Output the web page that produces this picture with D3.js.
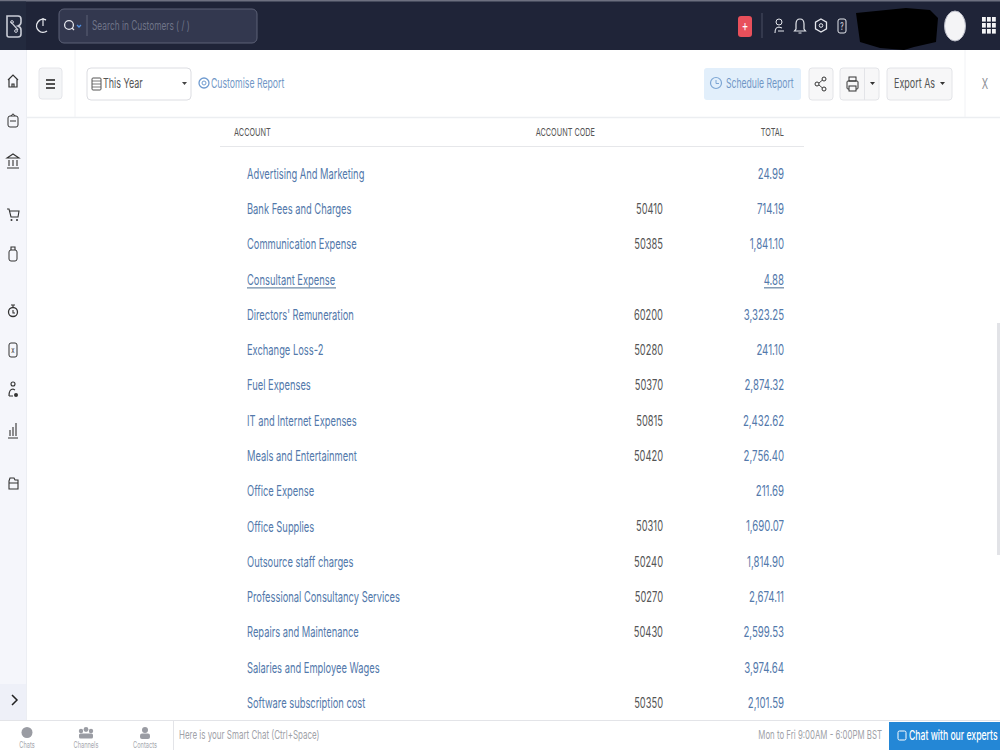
<!DOCTYPE html>
<html>
<head>
<meta charset="utf-8">
<script src="https://cdn.jsdelivr.net/npm/d3@7"></script>
<style>
html, body { margin: 0; padding: 0; background: #fff; overflow: hidden; }
svg { display: block; font-family: Inter, "Noto Sans", sans-serif; }
</style>
</head>
<body>
<script>
var accounts = ["Advertising And Marketing", "Bank Fees and Charges", "Communication Expense", "Consultant Expense",
  "Directors' Remuneration", "Exchange Loss-2", "Fuel Expenses", "IT and Internet Expenses", "Meals and Entertainment",
  "Office Expense", "Office Supplies", "Outsource staff charges", "Professional Consultancy Services",
  "Repairs and Maintenance", "Salaries and Employee Wages", "Software subscription cost"];
var codes = ["", "50410", "50385", "", "60200", "50280", "50370", "50815", "50420", "", "50310", "50240", "50270", "50430", "", "50350"];
var totals = [24.99, 714.19, 1841.10, 4.88, 3323.25, 241.10, 2874.32, 2432.62, 2756.40, 211.69, 1690.07, 1814.90, 2674.11, 2599.53, 3974.64, 2101.59];
var headers = ["ACCOUNT", "ACCOUNT CODE", "TOTAL"];
var hoveredRow = "Consultant Expense";

var blue = "#5379ab";
var squeeze = 0.665;  // the screenshot is squashed sideways, text looks condensed
var labelSqueeze = 0.645;

var svg = d3.select("body").append("svg").attr("width", 1000).attr("height", 750);

var y = d3.scalePoint().domain(accounts).range([173.5, 702.5]);
var fmt = d3.format(",.2f");

// text helper, keeps the condensed look
function txt(x, yy, s, size, fill, anchor, weight) {
  return svg.append("text")
    .attr("transform", "translate(" + x + "," + yy + ") scale(" + squeeze + ",1)")
    .attr("font-size", size)
    .attr("fill", fill)
    .attr("text-anchor", anchor || "start")
    .attr("font-weight", weight || 400)
    .attr("dominant-baseline", "central")
    .text(s);
}
function box(x, yy, w, h, fill, stroke, r) {
  return svg.append("rect").attr("x", x).attr("y", yy).attr("width", w).attr("height", h)
    .attr("fill", fill).attr("stroke", stroke || "none").attr("rx", r || 0);
}
function stroke(d, col, w) {
  return svg.append("path").attr("d", d).attr("fill", "none").attr("stroke", col).attr("stroke-width", w || 1.2);
}
function ring(cx, cy, r, col, w) {
  return svg.append("circle").attr("cx", cx).attr("cy", cy).attr("r", r)
    .attr("fill", "none").attr("stroke", col).attr("stroke-width", w || 1.2);
}
function dot(cx, cy, r, col) {
  return svg.append("circle").attr("cx", cx).attr("cy", cy).attr("r", r).attr("fill", col);
}

// top bar
box(0, 0, 1000, 50, "#1f2438");
box(0, 0, 1000, 1.5, "#6d7080");
box(0, 1.5, 26, 48.5, "#232a3e");
// logo
stroke("M7 16h11q3 0 3 3v3q0 3-3 4 3 1 3 4v4q0 3-3 3H9q-2 0-2-2z", "#c9ccd6", 1.6);
stroke("M11 22l7 8", "#c9ccd6", 1.2);
ring(12, 22, 1.4, "#c9ccd6", 1);
ring(16, 31, 1.4, "#c9ccd6", 1);
// refresh
stroke("M46 20a6.500 6.500 0 1 0 1 11", "#e4e6ec", 1.4);
stroke("M43 18v8", "#e4e6ec", 1.2);
// search box
box(59, 9, 198, 34, "#33384f", "#5c6176", 5);
ring(69, 25, 4.4, "#e4e6ec", 1.3);
stroke("M72 28l2 2", "#e4e6ec", 1.3);
stroke("M77 25l2 2 2-2", "#4f8fe0", 1.3);
stroke("M87 15v21", "#5c6176", 1);
txt(92, 26, "Search in Customers ( / )", 12.5, "#6f7488");

box(738, 16, 14, 21, "#e8505b", null, 3);
txt(745, 26, "+", 15, "#fff", "middle");
stroke("M762 13v25", "#4a4f63", 1);
ring(779, 22, 3, "#e4e6ec", 1);
stroke("M775 33q0-6 4-6l3 1M778 31h6", "#e4e6ec", 1.1);
stroke("M800 19q-4 0-4 5v5l-1.500 2h11l-1.500-2v-5q0-5-4-5zM798.500 33h3", "#e4e6ec", 1.2);
svg.append("path").attr("d", "M821 19l5.500 3.200v6.600L821 32l-5.500-3.200v-6.600z").attr("fill", "none").attr("stroke", "#e4e6ec").attr("stroke-width", 1.3);
ring(821, 25.500, 1.8, "#e4e6ec", 1);
box(838, 19, 8, 14, "none", "#e4e6ec", 2);
txt(842, 26, "?", 10, "#e4e6ec", "middle");
// blacked out user name
svg.append("path").attr("d", "M856 13l50-5 24 2 8 8-2 24-22 5-10 3-24-2-20-6z").attr("fill", "#000");
svg.append("ellipse").attr("cx", 955).attr("cy", 26).attr("rx", 10.5).attr("ry", 15).attr("fill", "#f4f4f6").attr("stroke", "#b9bbc6");
d3.range(3).forEach(function(i) {
  d3.range(3).forEach(function(j) {
    box(982 + i * 5, 17 + j * 6, 3.8, 4.6, "#f4f4f6");
  });
});

// left rail
box(0, 50, 26, 670, "#f5f6fb");
box(26, 50, 1, 670, "#eceef3");
stroke("M8 80l5-5 5 5M9 79v8h8v-8M12 87v-3h2v3", "#333", 1.2);
box(8, 116, 10, 11, "none", "#333", 2);
stroke("M11 116q2-4 4 0M10 121h6", "#333", 1);
stroke("M7 158l6-4 6 4zM9 160v6M13 160v6M17 160v6M7 168h12", "#333", 1.1);
stroke("M7 209h2l2 8h7l1-6h-9", "#333", 1.1);
dot(11.5, 220, 1, "#333");
dot(17, 220, 1, "#333");
box(9, 250, 8, 11, "none", "#333", 2);
stroke("M11 250v-3h4v3", "#333", 1.1);
ring(13, 312, 4.5, "#333", 1.3);
stroke("M11 305h4M13 305v2M13 310v3h2", "#333", 1.1);
box(9, 343, 8, 14, "none", "#333", 2);
txt(13, 350, "x", 9, "#333", "middle");
ring(13, 384, 2, "#333", 1.1);
stroke("M9 396q0-7 4-7l2 1M9 396h4", "#333", 1.2);
dot(16, 395, 2, "#333");
stroke("M10 436v-6M13 436v-9M16 436v-13M8 438h10", "#333", 1.1);
stroke("M9 481l1-3h4l1 2h3v9h-9zM9 483h9", "#333", 1.1);
box(0, 684, 26, 36, "#eef0f8");
stroke("M12 695l5 5-5 5", "#222", 1.5);

// report toolbar
stroke("M27 117.500H1000", "#eceef1", 1.5);
stroke("M75 50v67", "#f1f2f5", 1);
box(39, 68, 23, 31, "#f4f5f7", "#e5e6ea", 3);
stroke("M46 80h9M46 84h9M46 88h9", "#1d1d1d", 1.6);
box(87, 68, 104, 32, "#fff", "#dcdde2", 4);
box(92, 78, 9, 12, "none", "#555", 1);
stroke("M92 81h9M92 84h9M92 87h9", "#555", 0.8);
txt(103, 83, "This Year", 13.5, "#555");
svg.append("path").attr("d", "M182 82h5l-2.500 3z").attr("fill", "#444");
ring(204, 83, 5, "#6f9bd0", 1.3);
ring(204, 83, 2, "#6f9bd0", 1);
txt(211, 83, "Customise Report", 13.1, "#7197c6");

box(704, 68, 97, 32, "#e2effb", null, 3);
ring(716, 83, 5.5, "#7da6d4", 1.2);
stroke("M716 80v3.500h3", "#7da6d4", 1);
txt(726, 83, "Schedule Report", 13, "#7197c6");
box(809, 68, 24, 32, "#f7f7f8", "#e3e4e8", 3);
ring(817, 84, 2, "#333", 1);
ring(824, 79, 2, "#333", 1);
ring(824, 89, 2, "#333", 1);
stroke("M819 83l3.500-3M819 85l3.500 3", "#333", 0.9);
box(840, 68, 39, 32, "#f7f7f8", "#e3e4e8", 3);
stroke("M864.500 68v32", "#e3e4e8", 1);
box(847, 81, 11, 8, "none", "#333", 1);
box(849, 77, 7, 4, "none", "#333");
box(849, 86, 7, 5, "#f7f7f8", "#333");
svg.append("path").attr("d", "M870 82h5l-2.500 3z").attr("fill", "#333");
box(887, 68, 65, 32, "#f7f7f8", "#e3e4e8", 3);
txt(894, 83, "Export As", 13.5, "#555");
svg.append("path").attr("d", "M940 82h5l-2.500 3z").attr("fill", "#333");
stroke("M965 50v67", "#f1f2f5", 1);
txt(985, 84, "X", 14, "#8d8f96", "middle");

// scrollbar
box(997, 323, 3, 232, "#e2e3e7");

// table header
txt(234, 132, headers[0], 11, "#555");
txt(595, 132, headers[1], 11, "#555", "end");
txt(784, 132, headers[2], 11, "#555", "end");
stroke("M220 146.500H804", "#e6e7ea", 1);

// rows
var rows = svg.append("g").selectAll("g").data(accounts).enter().append("g");

rows.append("text")
  .attr("transform", function(d) { return "translate(247," + y(d) + ") scale(" + labelSqueeze + ",1)"; })
  .attr("dominant-baseline", "central")
  .attr("font-size", 14.5)
  .attr("fill", blue)
  .text(function(d) { return d; });

rows.append("text")
  .attr("transform", function(d) { return "translate(663," + y(d) + ") scale(" + squeeze + ",1)"; })
  .attr("dominant-baseline", "central")
  .attr("text-anchor", "end")
  .attr("font-size", 14)
  .attr("fill", "#555")
  .text(function(d, i) { return codes[i]; });

rows.append("text")
  .attr("transform", function(d) { return "translate(784," + y(d) + ") scale(" + squeeze + ",1)"; })
  .attr("dominant-baseline", "central")
  .attr("text-anchor", "end")
  .attr("font-size", 14.5)
  .attr("fill", blue)
  .text(function(d, i) { return fmt(totals[i]); });

// hovered row has underlines
var hy = y(hoveredRow) + 8.5;
stroke("M247 " + hy + "H336", "#6f8ba8", 1.3);
stroke("M764 " + hy + "H784", "#6f8ba8", 1.3);

// chat bar
box(0, 721, 1000, 29, "#fff");
stroke("M0 720.500H1000", "#e3e4e8", 1.2);
stroke("M173.500 721v29", "#e3e4e8", 1);
// chats, channels, contacts icons
svg.append("ellipse").attr("cx", 27).attr("cy", 732.500).attr("rx", 5.500).attr("ry", 5.500).attr("fill", "#9a9ca3");
dot(81, 731, 2.2, "#9a9ca3");
dot(86, 729.500, 2.4, "#9a9ca3");
dot(91, 731, 2.2, "#9a9ca3");
box(79, 733.500, 14, 5, "#9a9ca3", null, 1.500);
dot(145, 730, 3, "#9a9ca3");
box(140, 733.500, 10, 5.500, "#9a9ca3", null, 2);
txt(27, 745, "Chats", 8.5, "#a5a7ad", "middle");
txt(86, 745, "Channels", 8.5, "#a5a7ad", "middle");
txt(145, 745, "Contacts", 8.5, "#a5a7ad", "middle");
txt(179, 734, "Here is your Smart Chat (Ctrl+Space)", 12, "#a0a2a8");
txt(882, 734, "Mon to Fri 9:00AM - 6:00PM BST", 11.800, "#a0a2a8", "end");
box(889, 722, 111, 28, "#2487d6");
box(898, 731, 8, 9, "none", "#fff", 1.5);
txt(909, 735, "Chat with our experts", 13, "#fff", "start", 500);
</script>
</body>
</html>
